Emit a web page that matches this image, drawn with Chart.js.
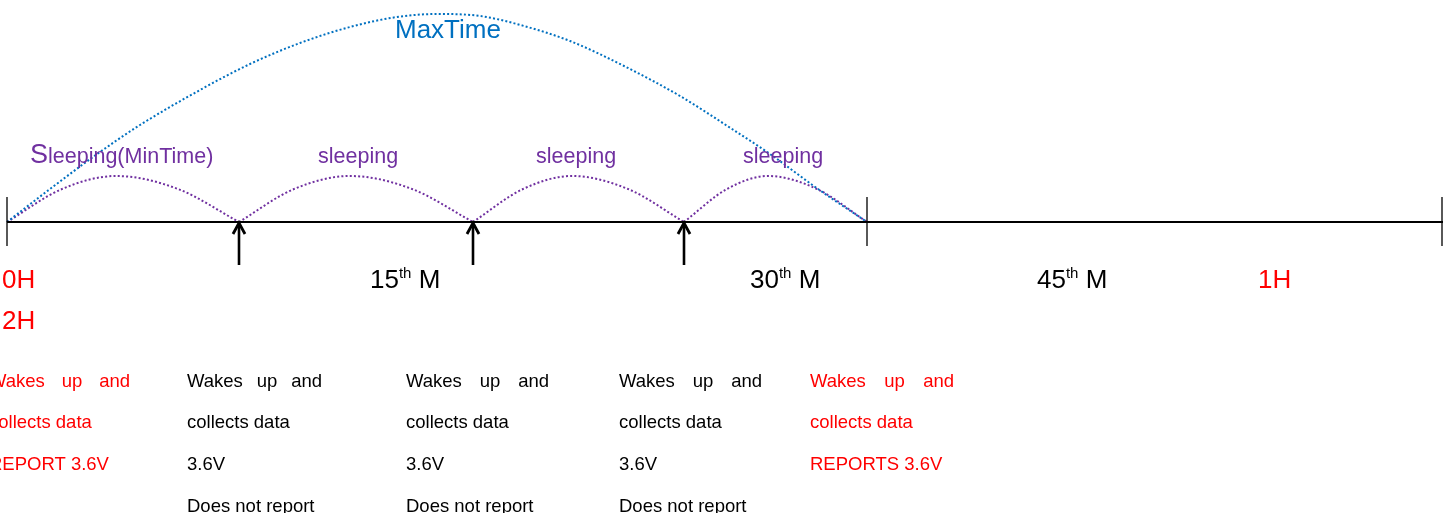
<!DOCTYPE html>
<html>
<head>
<meta charset="utf-8">
<script src="https://cdn.jsdelivr.net/npm/chart.js@4.4.1/dist/chart.umd.min.js"></script>
<style>
  html, body { margin: 0; padding: 0; background: #ffffff; overflow: hidden; }
  #wrap { width: 1443px; height: 513px; position: relative; }
</style>
</head>
<body>
<div id="wrap"><canvas id="c" width="1443" height="513"></canvas></div>
<script>
// ---- Data (diagram units: x along the timeline, y = height above the timeline) ----
const wakeX = [7, 239, 473, 684, 867];          // wake-up moments on the timeline
const timelineEndX = 1443;
const endTickX = [7, 867, 1442];                 // vertical ticks on the timeline
const arrowX = [239, 473, 684];                  // non-reporting wake-ups (arrows)

const maxTimeArc = [
  [7, 0], [50, 33], [100, 70], [140, 97], [200, 132], [250, 158], [300, 179],
  [350, 195], [397, 205], [437, 208], [480, 206], [524, 196], [570, 181],
  [624, 156], [680, 126], [732, 93], [770, 68], [818, 33], [867, 0]
];
const minTimeArcs = [
  [[7, 0], [62, 33], [116, 46], [178, 33], [239, 0]],
  [[239, 0], [294, 33], [350, 46], [412, 33], [473, 0]],
  [[473, 0], [523, 33], [572, 46], [628, 33], [684, 0]],
  [[684, 0], [727, 33], [768, 46], [817, 33], [867, 0]]
];

const timeLabels = ['0H', '15th M', '30th M', '45th M', '1H'];
const secondLabel = '2H';
const sleepLabels = ['Sleeping(MinTime)', 'sleeping', 'sleeping', 'sleeping'];
const maxTimeLabel = 'MaxTime';
const captions = [
  ['Wakes up and', 'collects data', 'REPORT 3.6V'],
  ['Wakes up and', 'collects data', '3.6V', 'Does not report'],
  ['Wakes up and', 'collects data', '3.6V', 'Does not report'],
  ['Wakes up and', 'collects data', '3.6V', 'Does not report'],
  ['Wakes up and', 'collects data', 'REPORTS 3.6V']
];
const captionReports = [true, false, false, false, true];

// ---- Styles ----
const PURPLE = '#7030A0';
const BLUE = '#0070C0';
const RED = '#FF0000';
const FONT = '"Liberation Sans", Arimo, Arial, sans-serif';

const toPts = arr => arr.map(p => ({ x: p[0], y: p[1] }));

const datasets = [];
// timeline
datasets.push({ data: [{ x: wakeX[0], y: 0 }, { x: timelineEndX, y: 0 }], borderColor: '#000', borderWidth: 2 });
// end ticks
endTickX.forEach(x => datasets.push({
  data: [{ x: x, y: 25 }, { x: x, y: -24 }], borderColor: '#000', borderWidth: 1.3
}));
// arrows
arrowX.forEach(x => {
  datasets.push({ data: [{ x: x, y: -43 }, { x: x, y: -2 }], borderColor: '#000', borderWidth: 2.6 });
  datasets.push({ data: [{ x: x - 6, y: -12 }, { x: x, y: -1 }, { x: x + 6, y: -12 }], borderColor: '#000', borderWidth: 2.8, borderJoinStyle: 'miter' });
});
// max time arc
datasets.push({
  data: toPts(maxTimeArc), borderColor: BLUE, borderWidth: 2,
  borderDash: [2, 2.2], cubicInterpolationMode: 'monotone'
});
// min time arcs
minTimeArcs.forEach(a => datasets.push({
  data: toPts(a), borderColor: PURPLE, borderWidth: 2,
  borderDash: [2, 2.2], cubicInterpolationMode: 'monotone'
}));

datasets.forEach(d => { d.showLine = true; d.pointRadius = 0; d.fill = false; d.pointHoverRadius = 0; });

const textPlugin = {
  id: 'diagramText',
  afterDatasetsDraw(chart) {
    const ctx = chart.ctx;
    const X = v => chart.scales.x.getPixelForValue(v);
    const Y = v => chart.scales.y.getPixelForValue(v);
    ctx.save();
    ctx.textBaseline = 'alphabetic';
    ctx.textAlign = 'left';

    // time labels
    const labelX = [2, 370, 750, 1037, 1258];
    timeLabels.forEach((t, i) => {
      const red = (i === 0 || i === timeLabels.length - 1);
      ctx.fillStyle = red ? RED : '#000';
      const m = t.match(/^(\d+)(th)(.*)$/);
      let x = X(labelX[i]);
      const yb = Y(-66);
      if (m) {
        ctx.font = '26px ' + FONT;
        ctx.fillText(m[1], x, yb); x += ctx.measureText(m[1]).width;
        ctx.font = '15px ' + FONT;
        ctx.fillText(m[2], x, Y(-56)); x += ctx.measureText(m[2]).width;
        ctx.font = '26px ' + FONT;
        ctx.fillText(m[3], x, yb);
      } else {
        ctx.font = '26px ' + FONT;
        ctx.fillText(t, x, yb);
      }
    });
    ctx.fillStyle = RED;
    ctx.font = '26px ' + FONT;
    ctx.fillText(secondLabel, X(2), Y(-107));

    // sleeping labels
    const sleepX = [30, 318, 536, 743];
    ctx.fillStyle = PURPLE;
    sleepLabels.forEach((t, i) => {
      let x = X(sleepX[i]);
      const yb = Y(59);
      if (i === 0) {
        ctx.font = '27px ' + FONT;
        ctx.fillText(t[0], x, yb); x += ctx.measureText(t[0]).width;
        ctx.font = '21.5px ' + FONT;
        ctx.fillText(t.slice(1), x, yb);
      } else {
        ctx.font = '21.5px ' + FONT;
        ctx.fillText(t, x, yb);
      }
    });

    // max time label
    ctx.fillStyle = BLUE;
    ctx.font = '26px ' + FONT;
    ctx.fillText(maxTimeLabel, X(395), Y(184));

    // captions
    const colX = [-11, 187, 406, 619, 810];
    const colW = [141, 135, 143, 143, 144];
    const lineY = [-165, -206, -248, -290];
    ctx.font = '18.5px ' + FONT;
    captions.forEach((lines, c) => {
      ctx.fillStyle = captionReports[c] ? RED : '#000';
      lines.forEach((line, li) => {
        const yb = Y(lineY[li]);
        const x0 = X(colX[c]);
        if (li === 0) {
          const words = line.split(' ');
          const widths = words.map(w => ctx.measureText(w).width);
          const sum = widths.reduce((a, b) => a + b, 0);
          const gap = (colW[c] - sum) / (words.length - 1);
          let x = x0;
          words.forEach((w, wi) => { ctx.fillText(w, x, yb); x += widths[wi] + gap; });
        } else {
          ctx.fillText(line, x0, yb);
        }
      });
    });
    ctx.restore();
  }
};

function build() {
  new Chart(document.getElementById('c'), {
    type: 'scatter',
    data: { datasets: datasets },
    options: {
      responsive: false,
      animation: false,
      events: [],
      layout: { padding: 0 },
      plugins: { legend: { display: false }, tooltip: { enabled: false } },
      scales: {
        x: { type: 'linear', min: 0, max: 1443, display: false },
        y: { type: 'linear', min: -291, max: 222, display: false }
      }
    },
    plugins: [textPlugin]
  });
}
if (document.fonts && document.fonts.load) {
  Promise.all([
    document.fonts.load('26px "Liberation Sans"'),
    document.fonts.load('18px "Liberation Sans"')
  ]).then(build, build);
} else {
  build();
}
</script>
</body>
</html>
